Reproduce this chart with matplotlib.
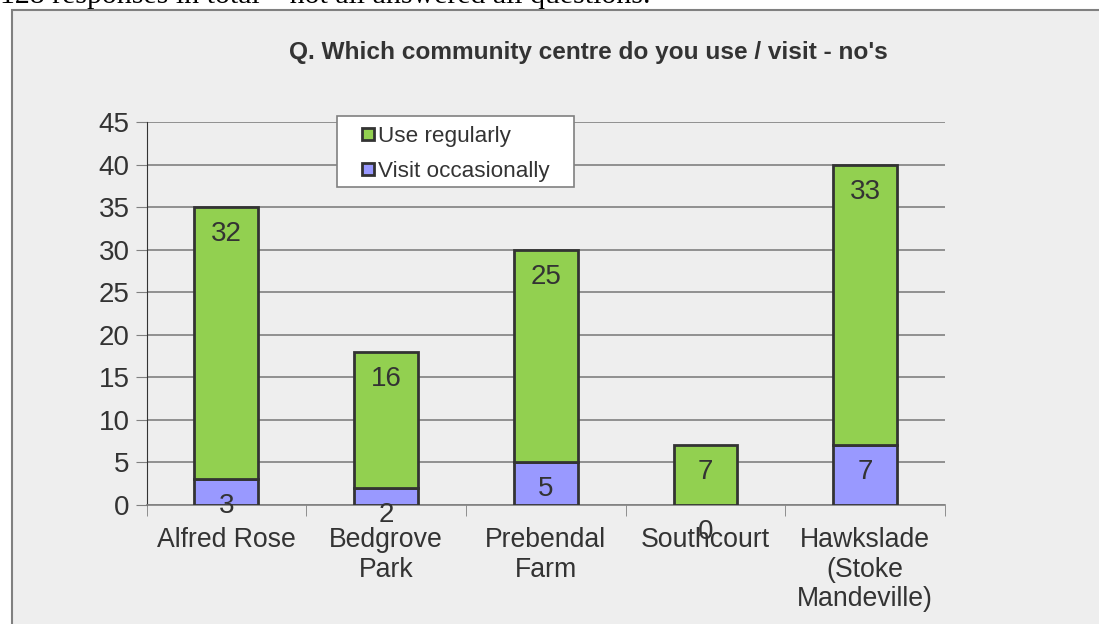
import matplotlib.pyplot as plt
import numpy as np
from matplotlib.patches import Rectangle
from matplotlib.lines import Line2D

plt.rcParams['font.family'] = ['Liberation Sans', 'DejaVu Sans']

centres = ['Alfred Rose', 'Bedgrove\nPark', 'Prebendal\nFarm', 'Southcourt',
           'Hawkslade\n(Stoke\nMandeville)']
visit_occasionally = [3, 2, 5, 0, 7]
use_regularly = [32, 16, 25, 7, 33]

green = '#92D050'
purple = '#9999FF'
ink = '#333333'
bg = '#EEEEEE'

W, H = 1099, 624
fig = plt.figure(figsize=(W / 100, H / 100), dpi=100)
fig.patch.set_facecolor('white')

# grey chart panel with border
fig.patches.append(Rectangle((12 / W, -0.05), 1.1, 1 - 10 / H + 0.05,
                             transform=fig.transFigure, facecolor=bg,
                             edgecolor='#808080', linewidth=1.5, zorder=-1))

# note above the chart (partly off the page)
fig.text(0.0, 1 - 3 / H, '128 responses in total \u2013 not all answered all questions.',
         family=['Liberation Serif', 'DejaVu Serif'], fontsize=21.5, va='baseline',
         ha='left', color='black')

ax = fig.add_axes([146.5 / W, 1 - 505 / H, 798.5 / W, 383 / H])
ax.set_facecolor(bg)

x = np.arange(len(centres))
w = 0.4
ax.bar(x, visit_occasionally, w, color=purple, edgecolor=ink, linewidth=2, zorder=3)
ax.bar(x, use_regularly, w, bottom=visit_occasionally, color=green,
       edgecolor=ink, linewidth=2, zorder=3)

# value labels just inside the top of each segment
for i in range(len(centres)):
    top_v = visit_occasionally[i]
    top_u = visit_occasionally[i] + use_regularly[i]
    for val, top in ((visit_occasionally[i], top_v), (use_regularly[i], top_u)):
        ax.annotate(str(val), (x[i], top), xytext=(0, -27 * 72 / 100),
                    textcoords='offset points', ha='center', va='center',
                    fontsize=20, color=ink, zorder=5, annotation_clip=False)

ax.set_xlim(-0.5, len(centres) - 0.5)
ax.set_ylim(0, 45)
ax.set_yticks(range(0, 46, 5))
ax.yaxis.grid(True, color='#808080', linewidth=1.2, zorder=0)
ax.set_axisbelow(True)

ax.set_xticks(x)
ax.set_xticklabels(centres, fontsize=19.2, color=ink, linespacing=1.18)
ax.set_xticks(np.arange(-0.5, len(centres), 1), minor=True)
ax.tick_params(axis='x', which='major', length=0, pad=16)
ax.tick_params(axis='x', which='minor', length=8, direction='out', color='#808080')
ax.tick_params(axis='y', labelsize=20, labelcolor=ink, length=8, color='#808080', pad=4)

for s in ('top', 'right'):
    ax.spines[s].set_visible(False)
ax.spines['left'].set_color(ink)
ax.spines['bottom'].set_color('#808080')
ax.spines['bottom'].set_linewidth(1.2)

fig.text(588 / W, 1 - 53 / H, "Q. Which community centre do you use / visit - no's",
         ha='center', va='center', fontsize=17.6, fontweight='bold', color=ink)

# legend box
fig.patches.append(Rectangle((337 / W, 1 - 187 / H), 237 / W, 71 / H,
                             transform=fig.transFigure, facecolor='white',
                             edgecolor='#808080', linewidth=1.2, zorder=1))
handles = [Line2D([], [], linestyle='none', marker='s', markersize=8.5,
                  markerfacecolor=c, markeredgecolor=ink, markeredgewidth=2)
           for c in (green, purple)]
leg = fig.legend(handles, ['Use regularly', 'Visit occasionally'], loc='upper left',
                 bbox_to_anchor=(337 / W, 1 - 116 / H), frameon=False,
                 fontsize=16.2, borderaxespad=0, numpoints=1,
                 handlelength=1.82, handletextpad=-0.44,
                 labelspacing=0.6, borderpad=0.45, labelcolor=ink)
leg.set_zorder(2)

fig.savefig('out.png', dpi=100)
